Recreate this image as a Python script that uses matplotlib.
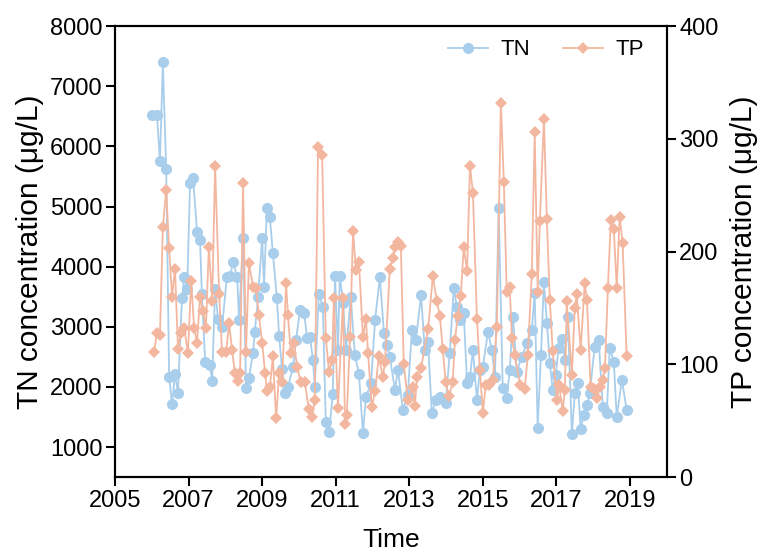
import matplotlib
matplotlib.use("Agg")
import matplotlib.pyplot as plt
import numpy as np

# =========================================================================
# Data (decimal year, concentration)
# =========================================================================
tn_time = [2006.01, 2006.14, 2006.22, 2006.30, 2006.39, 2006.47, 2006.55, 2006.63, 2006.71, 2006.82,
           2006.88, 2006.96, 2007.04, 2007.12, 2007.23, 2007.31, 2007.36, 2007.45, 2007.58, 2007.64,
           2007.72, 2007.80, 2007.91, 2008.04, 2008.13, 2008.21, 2008.32, 2008.37, 2008.48, 2008.56,
           2008.64, 2008.75, 2008.80, 2008.89, 2009.00, 2009.05, 2009.13, 2009.21, 2009.29, 2009.40,
           2009.46, 2009.54, 2009.62, 2009.70, 2009.84, 2009.92, 2010.03, 2010.14, 2010.22, 2010.30,
           2010.38, 2010.43, 2010.54, 2010.65, 2010.73, 2010.82, 2010.92, 2010.98, 2011.06, 2011.11,
           2011.20, 2011.28, 2011.41, 2011.52, 2011.63, 2011.74, 2011.82, 2011.96, 2012.07, 2012.20,
           2012.31, 2012.39, 2012.47, 2012.61, 2012.69, 2012.83, 2012.96, 2013.07, 2013.18, 2013.32,
           2013.42, 2013.51, 2013.61, 2013.72, 2013.83, 2013.91, 2013.99, 2014.10, 2014.21, 2014.29,
           2014.38, 2014.48, 2014.57, 2014.65, 2014.73, 2014.84, 2014.92, 2015.00, 2015.14, 2015.24,
           2015.33, 2015.43, 2015.54, 2015.65, 2015.73, 2015.82, 2015.92, 2016.06, 2016.20, 2016.33,
           2016.41, 2016.49, 2016.58, 2016.66, 2016.74, 2016.82, 2016.90, 2016.98, 2017.06, 2017.15,
           2017.23, 2017.31, 2017.42, 2017.50, 2017.58, 2017.66, 2017.74, 2017.83, 2017.91, 2018.04,
           2018.15, 2018.26, 2018.37, 2018.45, 2018.56, 2018.64, 2018.78, 2018.91]
tn_value = [6530, 6530, 5750, 7400, 5620, 2170, 1720, 2220, 1900, 3480,
            3830, 3630, 5400, 5480, 4570, 4450, 3550, 2420, 2370, 2100,
            3630, 3130, 3000, 3830, 3850, 4070, 3830, 3120, 4480, 1980,
            2150, 2570, 2920, 3500, 4480, 3670, 4980, 4820, 4230, 3480,
            2850, 2300, 1900, 2000, 2330, 2780, 3280, 3230, 2820, 2830,
            2450, 2000, 3550, 3330, 1420, 1250, 1880, 3850, 2620, 3850,
            3400, 2620, 3500, 2530, 2220, 1230, 1830, 2070, 3120, 3830,
            2900, 2700, 2500, 1950, 2280, 1620, 1870, 2950, 2780, 3530,
            2620, 2750, 1570, 1780, 1830, 1800, 1730, 2570, 3650, 3330,
            3120, 3230, 2070, 2170, 2620, 1780, 2280, 2330, 2920, 2620,
            2170, 4980, 1980, 1820, 2280, 3170, 2250, 2500, 2730, 2950,
            3570, 1320, 2530, 3750, 3070, 2400, 1950, 2200, 2650, 2800,
            2450, 3170, 1220, 1900, 2070, 1300, 1530, 1700, 1900, 2670,
            2780, 1670, 1570, 2650, 2420, 1500, 2120, 1620]

tp_time = [2006.06, 2006.14, 2006.22, 2006.30, 2006.39, 2006.47, 2006.55, 2006.63, 2006.71, 2006.79,
           2006.88, 2006.98, 2007.07, 2007.15, 2007.23, 2007.31, 2007.39, 2007.47, 2007.55, 2007.64,
           2007.72, 2007.83, 2007.91, 2008.02, 2008.10, 2008.18, 2008.26, 2008.34, 2008.40, 2008.48,
           2008.56, 2008.64, 2008.75, 2008.83, 2008.91, 2009.00, 2009.08, 2009.13, 2009.21, 2009.29,
           2009.38, 2009.46, 2009.54, 2009.65, 2009.70, 2009.78, 2009.86, 2009.95, 2010.05, 2010.16,
           2010.27, 2010.35, 2010.43, 2010.52, 2010.63, 2010.73, 2010.82, 2010.90, 2010.95, 2011.06,
           2011.20, 2011.25, 2011.30, 2011.39, 2011.47, 2011.55, 2011.63, 2011.74, 2011.82, 2011.88,
           2011.98, 2012.07, 2012.17, 2012.28, 2012.34, 2012.47, 2012.55, 2012.61, 2012.69, 2012.77,
           2012.85, 2012.96, 2013.10, 2013.15, 2013.21, 2013.32, 2013.51, 2013.64, 2013.75, 2013.83,
           2013.91, 2013.99, 2014.08, 2014.18, 2014.24, 2014.32, 2014.40, 2014.48, 2014.57, 2014.65,
           2014.73, 2014.84, 2014.92, 2015.00, 2015.08, 2015.16, 2015.27, 2015.38, 2015.49, 2015.57,
           2015.65, 2015.73, 2015.79, 2015.87, 2016.01, 2016.14, 2016.22, 2016.33, 2016.41, 2016.49,
           2016.55, 2016.66, 2016.74, 2016.82, 2016.90, 2017.01, 2017.07, 2017.17, 2017.23, 2017.28,
           2017.42, 2017.50, 2017.55, 2017.66, 2017.77, 2017.83, 2017.93, 2018.02, 2018.10, 2018.18,
           2018.26, 2018.32, 2018.40, 2018.48, 2018.56, 2018.64, 2018.72, 2018.80, 2018.91]
tp_value = [111, 128, 126, 222, 255, 203, 160, 185, 114, 128,
            132, 110, 174, 132, 119, 160, 147, 132, 204, 156,
            276, 162, 111, 111, 137, 113, 92, 85, 92, 261,
            111, 190, 169, 168, 144, 119, 92, 76, 80, 107,
            52, 92, 84, 172, 144, 110, 119, 98, 84, 84,
            60, 53, 68, 293, 286, 123, 93, 104, 159, 61,
            159, 47, 55, 124, 218, 184, 191, 124, 140, 110,
            62, 76, 107, 89, 102, 185, 194, 204, 209, 205,
            100, 68, 80, 63, 89, 97, 131, 178, 156, 143,
            114, 84, 72, 84, 122, 143, 161, 204, 183, 276,
            252, 140, 95, 57, 82, 82, 86, 133, 332, 262,
            164, 169, 123, 108, 82, 78, 108, 180, 306, 164,
            227, 318, 229, 157, 112, 68, 82, 59, 77, 156,
            91, 150, 162, 113, 172, 157, 80, 78, 70, 80,
            86, 97, 168, 228, 220, 168, 231, 208, 107]

x_ticks = [2005, 2007, 2009, 2011, 2013, 2015, 2017, 2019]
tn_ticks = [1000, 2000, 3000, 4000, 5000, 6000, 7000, 8000]
tp_ticks = [0, 100, 200, 300, 400]

TN_COLOR = '#A8CEEC'
TP_COLOR = '#F3B7A0'

# =========================================================================
# Figure
# =========================================================================
plt.rcParams['font.family'] = ['Liberation Sans', 'DejaVu Sans']

fig = plt.figure(figsize=(7.62, 5.58), dpi=100)
ax = fig.add_axes([0.151, 0.145, 0.724, 0.808])
ax2 = ax.twinx()

ln1, = ax.plot(tn_time, tn_value, color=TN_COLOR, linewidth=1.3, marker='o',
               markersize=8, markeredgewidth=0, label='TN')
ln2, = ax2.plot(tp_time, tp_value, color=TP_COLOR, linewidth=1.3, marker='D',
                markersize=6.5, markeredgewidth=0, label='TP')

ax.set_xlim(2005, 2020)
ax.set_ylim(500, 8000)
ax2.set_ylim(0, 400)
ax.set_xticks(x_ticks)
ax.set_yticks(tn_ticks)
ax2.set_yticks(tp_ticks)

ax.set_xlabel('Time', fontsize=19, labelpad=12)
ax.set_ylabel('TN concentration (μg/L)', fontsize=21.5, labelpad=4)
ax2.set_ylabel('TP concentration (μg/L)', fontsize=21.5, labelpad=8)

for a in (ax, ax2):
    a.tick_params(direction='out', length=6.5, width=1.5, labelsize=17, pad=2.5)
    for s in a.spines.values():
        s.set_linewidth(1.5)

ax.legend(handles=[ln1, ln2], loc='upper right', ncol=2, frameon=False,
          fontsize=16, handlelength=1.8, columnspacing=1.5, handletextpad=0.55,
          bbox_to_anchor=(0.995, 1.015))

fig.savefig('out.png', dpi=100)
plt.close(fig)
